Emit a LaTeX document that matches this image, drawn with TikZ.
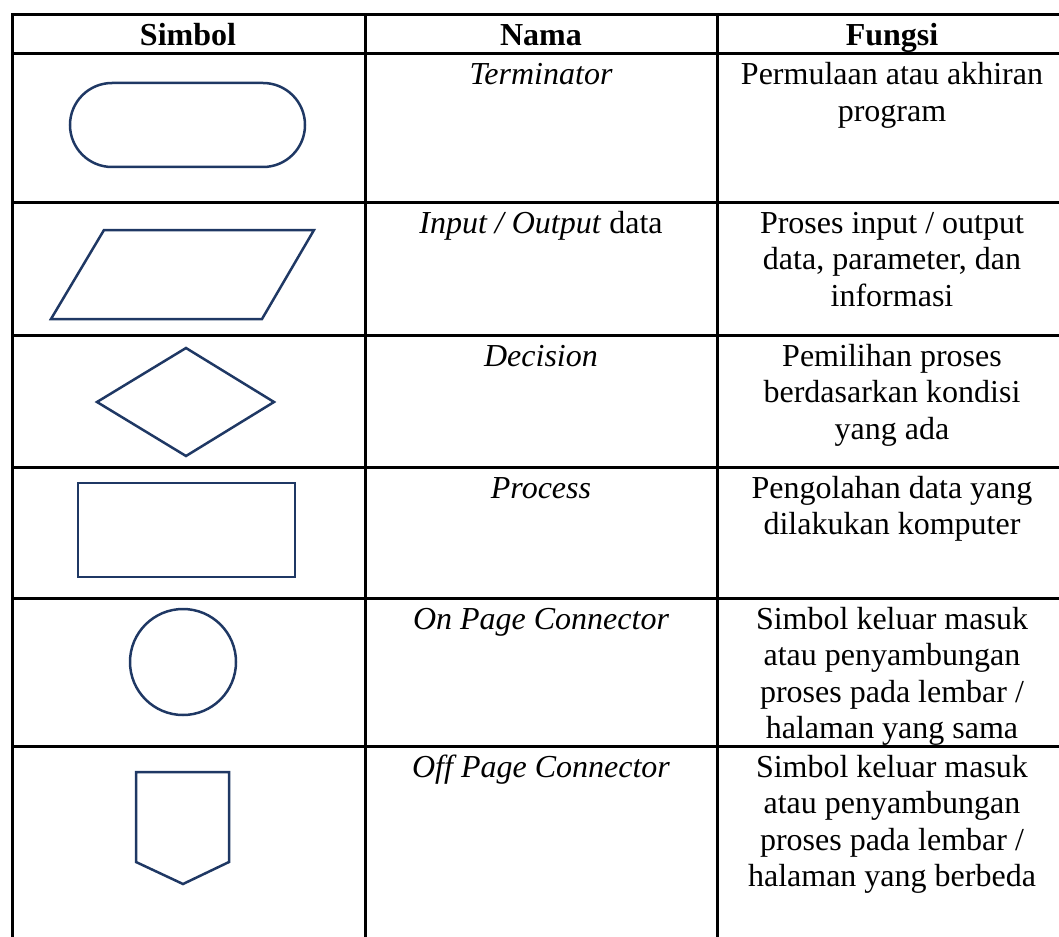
\documentclass[tikz,border=0pt]{standalone}
\usepackage{fontspec}
\setmainfont{Liberation Serif}
\definecolor{navy}{HTML}{1F3864}
\newcommand\cellt[1]{\begin{tabular}[t]{@{}c@{}}#1\end{tabular}}
\tikzset{
  gridline/.style={line width=3pt, black, line cap=rect},
  shp/.style={draw=navy, line width=2.5pt, line join=miter},
  txt/.style={anchor=base, inner sep=0pt, font=\fontsize{32}{36.5}\selectfont},
  hdr/.style={txt, font=\fontsize{32}{36.5}\selectfont\bfseries}
}
\begin{document}
\begin{tikzpicture}[x=1pt,y=-1pt]
\useasboundingbox (0,0) rectangle (1059,936);
\clip (0,0) rectangle (1059,936);
% table grid
\foreach \yy in {15,54,202,335,467,598,746}
  \draw[gridline] (12,\yy) -- (1080,\yy);
\foreach \xx in {12,365,717}
  \draw[gridline] (\xx,15) -- (\xx,960);
% header
\node[hdr] (h1) at (188,46) {Simbol};
\node[hdr] (h2) at (541,46) {Nama};
\node[hdr] (h3) at (892,46) {Fungsi};
% symbols
\draw[shp, rounded corners=42pt] (70,83) rectangle (305,167);
\draw[shp] (104,230) -- (314,230) -- (262,319) -- (51,319) -- cycle;
\draw[shp] (186,348) -- (274,402) -- (186,456) -- (97,402) -- cycle;
\draw[shp] (78,483) rectangle (295,577);
\draw[shp] (183,662) circle[radius=53];
\draw[shp] (136,772) -- (229,772) -- (229,862) -- (183,884) -- (136,862) -- cycle;
% names
\node[txt] (n1) at (541,85) {\itshape Terminator};
\node[txt] (n2) at (541,233) {\textit{Input / Output} data};
\node[txt] (n3) at (541,366) {\itshape Decision};
\node[txt] (n4) at (541,498) {\itshape Process};
\node[txt] (n5) at (541,629) {\itshape On Page Connector};
\node[txt] (n6) at (541,777) {\itshape Off Page Connector};
% functions
\node[txt] (f1) at (892,85) {\cellt{Permulaan atau akhiran\\program}};
\node[txt] (f2) at (892,233) {\cellt{Proses input / output\\data, parameter, dan\\informasi}};
\node[txt] (f3) at (892,366) {\cellt{Pemilihan proses\\berdasarkan kondisi\\yang ada}};
\node[txt] (f4) at (892,498) {\cellt{Pengolahan data yang\\dilakukan komputer}};
\node[txt] (f5) at (892,629) {\cellt{Simbol keluar masuk\\atau penyambungan\\proses pada lembar /\\halaman yang sama}};
\node[txt] (f6) at (892,777) {\cellt{Simbol keluar masuk\\atau penyambungan\\proses pada lembar /\\halaman yang berbeda}};
\end{tikzpicture}
\end{document}
